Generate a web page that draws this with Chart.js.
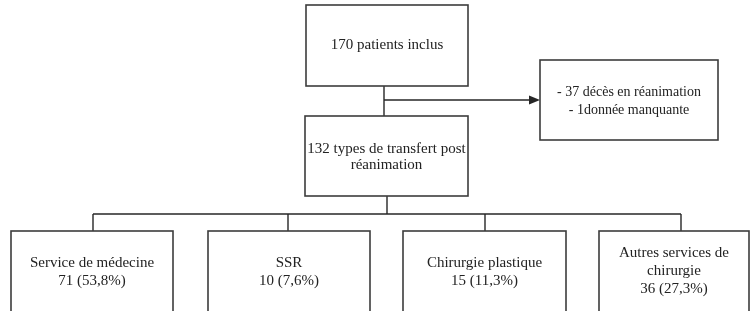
<!DOCTYPE html>
<html>
<head>
<meta charset="utf-8">
<script src="https://cdn.jsdelivr.net/npm/chart.js@4.4.1/dist/chart.umd.min.js"></script>
<style>
  html, body { margin: 0; padding: 0; background: #fff; }
  #wrap { width: 751px; height: 311px; }
</style>
</head>
<body>
<div id="wrap"><canvas id="flowChart" width="751" height="311"></canvas></div>
<script>
// flowchart data
const totalIncluded = 170;
const excludedLines = ['- 37 décès en réanimation', '- 1donnée manquante'];
const transferCount = 132;
const serviceNames = [['Service de médecine'], ['SSR'], ['Chirurgie plastique'], ['Autres services de', 'chirurgie']];
const serviceCounts = [71, 10, 15, 36];
const servicePercents = ['53,8', '7,6', '11,3', '27,3'];

// layout, in axis units (x 0..751, y 0..311 from top)
const topBox = { x0: 306, x1: 468, y0: 5, y1: 86 };
const sideBox = { x0: 540, x1: 718, y0: 60, y1: 140 };
const midBox = { x0: 305, x1: 468, y0: 116, y1: 196 };
const bottomBoxesX = [[11, 173], [208, 370], [403, 566], [599, 749]];
const bottomTop = 231, bottomEnd = 330;
const branchY = 100, busY = 214;
const topStemX = 384, midStemX = 387;
const dropsX = [93, 288, 485, 681];

const FONT = '15px "Liberation Serif", "Times New Roman", serif';
const SIDE_FONT = '14px "Liberation Serif", "Times New Roman", serif';
const LINE_COLOR = '#262626';
const BOX_COLOR = '#3c3c3c';
const TEXT_COLOR = '#222';

const flowPlugin = {
    id: 'flow',
    afterDraw(chart) {
        const ctx = chart.ctx;
        const xs = chart.scales.x, ys = chart.scales.y;
        const px = v => xs.getPixelForValue(v);
        const py = v => ys.getPixelForValue(v);

        function line(x0, y0, x1, y1) {
            ctx.beginPath();
            ctx.moveTo(px(x0), py(y0));
            ctx.lineTo(px(x1), py(y1));
            ctx.stroke();
        }

        function box(b) {
            ctx.save();
            ctx.strokeStyle = BOX_COLOR;
            ctx.lineWidth = 1.6;
            ctx.strokeRect(px(b.x0), py(b.y0), px(b.x1) - px(b.x0), py(b.y1) - py(b.y0));
            ctx.restore();
        }

        function text(lines, cx, ys0, step, font) {
            ctx.save();
            ctx.font = font || FONT;
            ctx.fillStyle = TEXT_COLOR;
            ctx.textAlign = 'center';
            ctx.textBaseline = 'middle';
            lines.forEach((l, i) => ctx.fillText(l, px(cx), py(ys0 + i * step)));
            ctx.restore();
        }

        ctx.save();
        ctx.strokeStyle = LINE_COLOR;
        ctx.lineWidth = 1.4;

        // connectors
        line(topStemX, topBox.y1, topStemX, midBox.y0);
        line(topStemX, branchY, sideBox.x0 - 8, branchY);
        line(midStemX, midBox.y1, midStemX, busY);
        line(dropsX[0], busY, dropsX[dropsX.length - 1], busY);
        dropsX.forEach(x => line(x, busY, x, bottomTop));

        // arrow head
        ctx.fillStyle = LINE_COLOR;
        ctx.beginPath();
        ctx.moveTo(px(sideBox.x0), py(branchY));
        ctx.lineTo(px(sideBox.x0 - 11), py(branchY - 4.5));
        ctx.lineTo(px(sideBox.x0 - 11), py(branchY + 4.5));
        ctx.closePath();
        ctx.fill();
        ctx.restore();

        // boxes
        box(topBox);
        box(sideBox);
        box(midBox);
        bottomBoxesX.forEach(([x0, x1]) => box({ x0: x0, x1: x1, y0: bottomTop, y1: bottomEnd }));

        // texts
        text([totalIncluded + ' patients inclus'], (topBox.x0 + topBox.x1) / 2, 45, 0);
        text(excludedLines, 629, 92, 18, SIDE_FONT);
        text([transferCount + ' types de transfert post', 'réanimation'], (midBox.x0 + midBox.x1) / 2, 149, 16.5);

        serviceNames.forEach((name, i) => {
            const [x0, x1] = bottomBoxesX[i];
            const lines = name.concat([serviceCounts[i] + ' (' + servicePercents[i] + '%)']);
            const start = lines.length === 3 ? 253 : 263;
            text(lines, (x0 + x1) / 2, start, 18);
        });
    }
};

new Chart(document.getElementById('flowChart'), {
    type: 'scatter',
    data: {
        datasets: [{
            data: [],
            pointRadius: 0
        }]
    },
    options: {
        responsive: false,
        animation: false,
        events: [],
        layout: { padding: 0 },
        plugins: { legend: { display: false }, tooltip: { enabled: false } },
        scales: {
            x: { type: 'linear', min: 0, max: 751, display: false },
            y: { type: 'linear', min: 0, max: 311, reverse: true, display: false }
        }
    },
    plugins: [flowPlugin]
});
</script>
</body>
</html>
